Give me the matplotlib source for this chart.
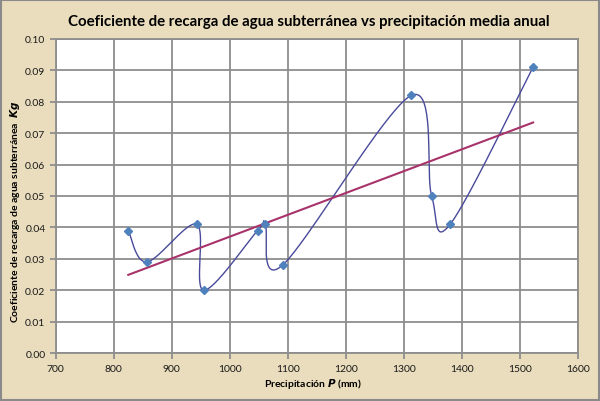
import numpy as np
import matplotlib
matplotlib.use('Agg')
import matplotlib.pyplot as plt
from matplotlib.patches import Rectangle

# Data
precip_mm = [825, 857, 943, 955, 1048, 1061, 1091, 1313, 1348, 1380, 1523]
kg_coef = [0.039, 0.029, 0.041, 0.020, 0.039, 0.041, 0.028, 0.082, 0.050, 0.041, 0.091]
x_ticks = [700, 800, 900, 1000, 1100, 1200, 1300, 1400, 1500, 1600]
y_ticks = [0.00, 0.01, 0.02, 0.03, 0.04, 0.05, 0.06, 0.07, 0.08, 0.09, 0.10]

title = 'Coeficiente de recarga de agua subterránea vs precipitación media anual'

PARCHMENT = '#EADDBD'
GRID = '#8E8E8E'
MARKER = '#4F81BD'
CURVE = '#4A4A9C'
TREND = '#A8336B'

plt.rcParams['font.family'] = ['Lato', 'DejaVu Sans']

fig = plt.figure(figsize=(6.0, 4.02), dpi=100, facecolor=PARCHMENT)
ax = fig.add_axes([0.093, 0.119, 0.870, 0.782])
ax.set_facecolor('white')
ax.set_xlim(700, 1600)
ax.set_ylim(0, 0.10)
ax.set_xticks(x_ticks)
ax.set_yticks(y_ticks)
ax.set_xticklabels([str(v) for v in x_ticks])
ax.set_yticklabels([f'{v:.2f}' for v in y_ticks])
ax.grid(True, color=GRID, lw=1.3)
ax.set_axisbelow(True)
for s in ax.spines.values():
    s.set_color(GRID)
    s.set_linewidth(1.3)
ax.tick_params(colors=GRID, labelcolor='#1a1a1a', labelsize=7.5,
               length=4, width=1.3)

# Excel-style smoothed line: cubic Bezier (Catmull-Rom) in display space
pts = ax.transData.transform(np.column_stack([precip_mm, kg_coef]))
ext = np.vstack([pts[0], pts, pts[-1]])
curve = []
t = np.linspace(0, 1, 40)[:, None]
for i in range(1, len(ext) - 2):
    p0, p1, p2, p3 = ext[i - 1], ext[i], ext[i + 1], ext[i + 2]
    c1 = p1 + (p2 - p0) / 6.0
    c2 = p2 - (p3 - p1) / 6.0
    seg = ((1 - t) ** 3) * p1 + 3 * ((1 - t) ** 2) * t * c1 \
        + 3 * (1 - t) * t ** 2 * c2 + t ** 3 * p2
    curve.append(seg)
curve = ax.transData.inverted().transform(np.vstack(curve))
ax.plot(curve[:, 0], curve[:, 1], color=CURVE, lw=1.0, zorder=3)

# linear trendline
k, b = np.polyfit(precip_mm, kg_coef, 1)
xt = np.array([min(precip_mm), max(precip_mm)])
ax.plot(xt, k * xt + b, color=TREND, lw=1.5, zorder=3)

ax.plot(precip_mm, kg_coef, linestyle='none', marker='D', ms=4.5,
        color=MARKER, mec=MARKER, zorder=4)

fig.text(0.515, 0.945, title, ha='center', va='center',
         fontsize=10.8, fontweight='bold', color='black')
fig.text(0.522, 0.046, r'Precipitación $\bfit{P}$ (mm)', ha='center', va='center',
         fontsize=7.5, fontweight='bold')
fig.text(0.025, 0.473, r'Coeficiente de recarga de agua subterránea  $\bfit{Kg}$',
         ha='center', va='center', rotation=90, fontsize=7.5, fontweight='bold')

fig.add_artist(Rectangle((0.001, 0.002), 0.997, 0.995, transform=fig.transFigure,
                         fill=False, edgecolor='#8A8A8A', lw=1.5))

fig.savefig('out.png', dpi=100, facecolor=PARCHMENT)
